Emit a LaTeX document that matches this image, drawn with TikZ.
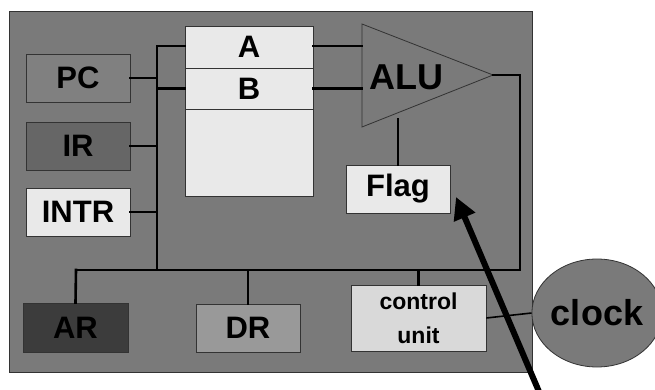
\documentclass[tikz,border=0pt]{standalone}
\usepackage{fontspec}
\setmainfont{Liberation Sans}
\usetikzlibrary{arrows.meta,positioning,shapes.geometric}
\definecolor{boardgray}{RGB}{122,122,122}
\definecolor{pcgray}{RGB}{128,128,128}
\definecolor{irgray}{RGB}{102,102,102}
\definecolor{argray}{RGB}{60,60,60}
\definecolor{drgray}{RGB}{153,153,153}
\definecolor{cugray}{RGB}{217,217,217}
\definecolor{lightreg}{RGB}{233,233,233}

\begin{document}
\begin{tikzpicture}[x=1pt,y=-1pt,
    reg/.style={draw=black!80, line width=0.8pt, minimum width=104pt, minimum height=48pt,
                inner sep=0pt, font=\fontsize{31}{31}\selectfont\bfseries},
    bus/.style={line width=2.6pt, line cap=rect},
    wire/.style={line width=1.6pt}]
    \useasboundingbox (0,0) rectangle (655,390);

    % CPU board
    \draw[fill=boardgray, draw=black!80, line width=0.8pt] (9,11) rectangle (532,372);

    % Registers on the left
    \node[reg, fill=pcgray] (pc) at (78,78) {PC};
    \node[reg, fill=irgray] (ir) at (78,146) {IR};
    \node[reg, fill=lightreg] (intr) at (78,212) {INTR};

    % Register file
    \node[reg, fill=lightreg, minimum width=128pt, minimum height=42pt] (rega) at (249,47) {A};
    \node[reg, fill=lightreg, minimum width=128pt, minimum height=41pt] (regb) at (249,88.5) {B};
    \node[reg, fill=lightreg, minimum width=128pt, minimum height=87pt] (regrest) at (249,152.5) {};

    % ALU
    \coordinate (alutop) at (362,24);
    \coordinate (alubot) at (362,127);
    \coordinate (alutip) at (493,75);
    \draw[fill=boardgray, draw=black!80, line width=0.8pt] (alutop) -- (alutip) -- (alubot) -- cycle;
    \node[font=\fontsize{36}{36}\selectfont\bfseries] (alu) at (406,77) {ALU};

    % Flag
    \node[reg, fill=lightreg] (flag) at (398,189) {Flag};

    % Lower row
    \node[reg, fill=argray, minimum width=105pt, minimum height=49pt] (ar) at (75.5,327.5) {AR};
    \node[reg, fill=drgray] (dr) at (248,328) {DR};
    \node[reg, fill=cugray, minimum width=135pt, minimum height=66pt, align=center,
          font=\fontsize{23}{34}\selectfont\bfseries] (cu) at (418.5,318) {control\\unit};

    % Clock
    \node[draw=black!80, line width=0.8pt, fill=boardgray, ellipse, minimum width=116pt,
          minimum height=108pt, inner sep=0pt, font=\fontsize{36}{36}\selectfont\bfseries]
          (clock) at (597,313) {clock};

    % Internal bus
    \coordinate (bustop) at (157,46);
    \coordinate (busmid) at (157,270);
    \coordinate (busleft) at (76,270);
    \coordinate (busright) at (520,270);
    \draw[bus] (bustop) -- (busmid);
    \draw[bus] (bustop) -- (bustop -| rega.west);
    \draw[bus] (regb.west -| bustop) -- (regb.west);
    \draw[bus] (pc.east) -- (pc.east -| bustop);
    \draw[bus] (ir.east) -- (ir.east -| bustop);
    \draw[bus] (intr.east) -- (intr.east -| bustop);
    \draw[bus] (busleft) -- (busright) -- (busright |- alutip) -- (alutip);
    \draw[bus] (busleft) -- (ar.north);
    \draw[bus] (dr.north) -- (dr.north |- busmid);
    \draw[bus] (cu.north) -- (cu.north |- busmid);

    % Register file to ALU
    \draw[bus] (bustop -| rega.east) -- (bustop -| alutop);
    \draw[bus] (regb.east) -- (regb.east -| alutop);
    \draw[bus] (flag.north) -- ++(0,-45);

    % Clock line
    \draw[wire] (cu.east) -- (clock.west);

    % Pointer to Flag
    \coordinate (pointtail) at (540,394);
    \coordinate (pointhead) at (456,197);
    \draw[line width=6pt, -{Triangle[length=22pt,width=22pt]}] (pointtail) -- (pointhead);
\end{tikzpicture}
\end{document}
